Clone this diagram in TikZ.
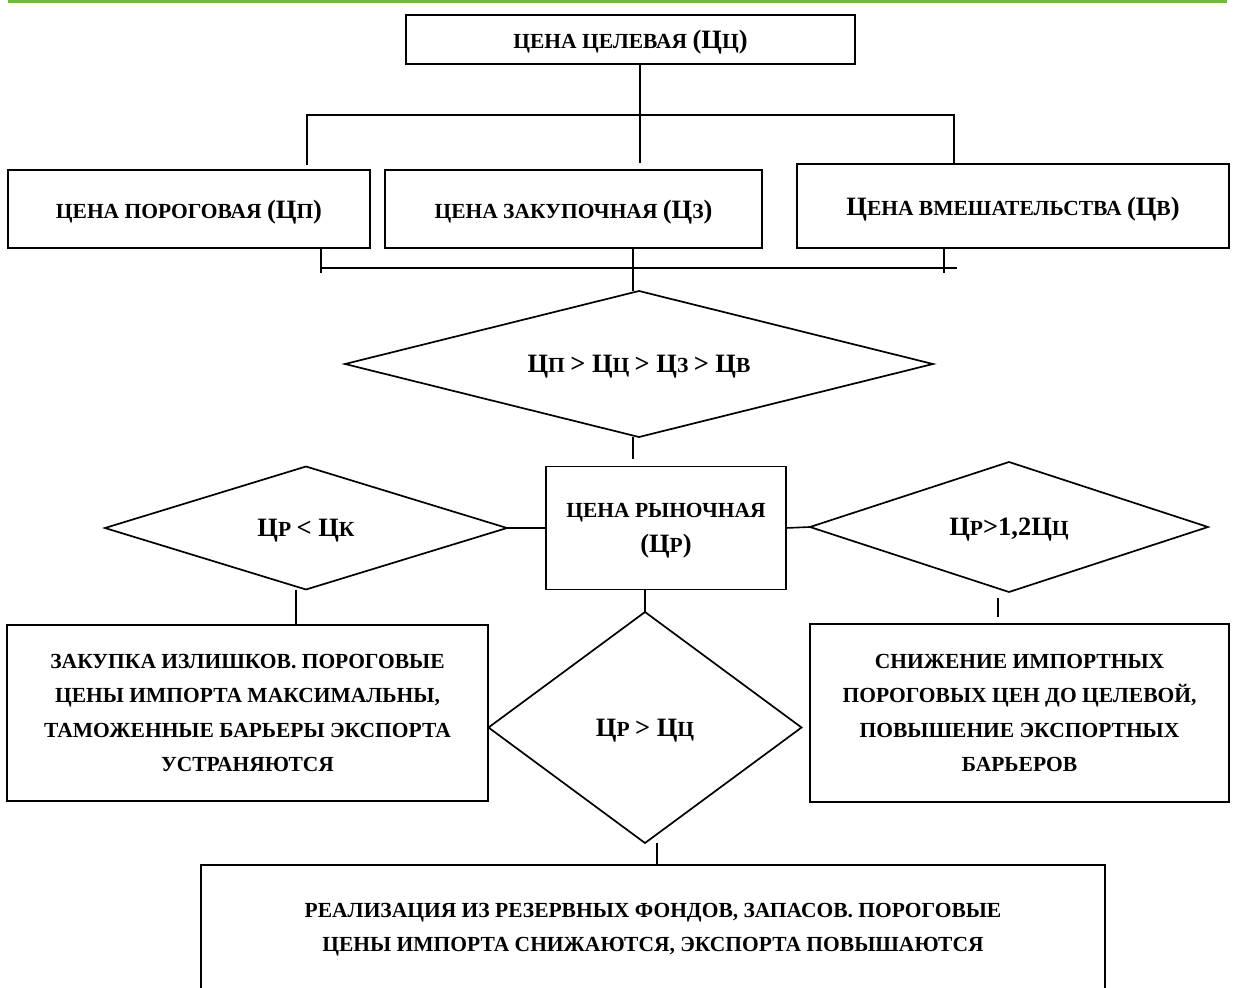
\documentclass[tikz,border=0pt]{standalone}
\usepackage{fontspec}
\setmainfont{Liberation Serif}
\usepackage{tikz}
\usetikzlibrary{shapes.geometric}
\definecolor{topgreen}{RGB}{112,185,60}
\newcommand\bc[1]{{\fontsize{26.5}{30}\selectfont #1}}

\begin{document}
\begin{tikzpicture}[x=1pt, y=-1pt, line width=1.6pt,
    box/.style={draw, line width=1.8pt, inner sep=0pt, outer sep=0pt},
    rhomb/.style={diamond, draw, line width=1.7pt, inner sep=0pt, outer sep=0pt},
    every node/.style={font=\fontsize{21.5}{34.5}\selectfont\bfseries, align=center, text depth=0pt}]
  \useasboundingbox (0,0) rectangle (1233,987);
  \clip (0,0) rectangle (1233,987);
  \draw[topgreen, line width=3pt] (8,2) -- (1227,2);
  % prices
  \node[box, minimum width=449pt, minimum height=49pt] (tzel) at (630.5,39.5) {ЦЕНА ЦЕЛЕВАЯ \bc{(Ц}Ц\bc{)}};
  \node[box, minimum width=362pt, minimum height=78pt] (tpor) at (189,209) {ЦЕНА ПОРОГОВАЯ \bc{(Ц}П\bc{)}};
  \node[box, minimum width=377pt, minimum height=78pt] (tzak) at (573.5,209) {ЦЕНА ЗАКУПОЧНАЯ \bc{(Ц}З\bc{)}};
  \node[box, minimum width=432pt, minimum height=84pt] (tvm) at (1013,206) {\bc{Ц}ЕНА ВМЕШАТЕЛЬСТВА \bc{(Ц}В\bc{)}};
  \node[rhomb, aspect=4, minimum width=588pt, minimum height=146pt] (dcmp) at (639,364) {\bc{Ц}П \bc{> Ц}Ц \bc{> Ц}З \bc{> Ц}В};
  \node[box, minimum width=240pt, minimum height=123pt] (tryn) at (666,528) {ЦЕНА РЫНОЧНАЯ\\\bc{(Ц}Р\bc{)}};
  % conditions
  \node[rhomb, aspect=3.3, minimum width=402pt, minimum height=123pt] (dlow) at (306,528) {\bc{Ц}Р \bc{< Ц}К};
  \node[rhomb, aspect=3, minimum width=398pt, minimum height=130pt] (dhigh) at (1009,527) {\bc{Ц}Р\bc{>1,2Ц}Ц};
  \node[rhomb, aspect=1.35, minimum width=313pt, minimum height=231pt] (dmid) at (645,727.5) {\bc{Ц}Р \bc{> Ц}Ц};
  % measures
  \node[box, minimum width=481pt, minimum height=176pt] (rlow) at (247.5,713) {ЗАКУПКА ИЗЛИШКОВ. ПОРОГОВЫЕ\\ЦЕНЫ ИМПОРТА МАКСИМАЛЬНЫ,\\ТАМОЖЕННЫЕ БАРЬЕРЫ ЭКСПОРТА\\УСТРАНЯЮТСЯ};
  \node[box, minimum width=419pt, minimum height=178pt] (rhigh) at (1019.5,713) {СНИЖЕНИЕ ИМПОРТНЫХ\\ПОРОГОВЫХ ЦЕН ДО ЦЕЛЕВОЙ,\\ПОВЫШЕНИЕ ЭКСПОРТНЫХ\\БАРЬЕРОВ};
  \node[box, minimum width=904pt, minimum height=125pt] (rmid) at (653,927.5) {РЕАЛИЗАЦИЯ ИЗ РЕЗЕРВНЫХ ФОНДОВ, ЗАПАСОВ. ПОРОГОВЫЕ\\ЦЕНЫ ИМПОРТА СНИЖАЮТСЯ, ЭКСПОРТА ПОВЫШАЮТСЯ};
  % upper bus
  \coordinate (bl) at (307,115);
  \coordinate (br) at (954,115);
  \coordinate (bt) at (640,115);
  \draw ([yshift=5pt]tpor.north -| bl) -- (bl) -- (br) -- ([yshift=1pt]tvm.north -| br);
  \draw (tzel.south -| bt) -- ([yshift=7pt]tzak.north -| bt);
  % lower bus
  \coordinate (ul) at (321,268);
  \coordinate (ur) at (957,268);
  \coordinate (um) at (633,268);
  \coordinate (uv) at (944,268);
  \draw (ul) -- (ur);
  \draw (tpor.south -| ul) -- ++(0,25);
  \draw (tvm.south -| uv) -- ++(0,25);
  \draw (tzak.south -| um) -- (dcmp.north -| um);
  \draw (dcmp.south -| um) -- ([yshift=8pt]tryn.north -| um);
  % market price
  \draw (dlow.east) -- (tryn.west);
  \draw (tryn.east) -- (dhigh.west);
  \draw (tryn.south -| dmid.north) -- (dmid.north);
  \draw ([xshift=-10pt]dlow.south) -- ([xshift=-10pt]dlow.south |- rlow.north);
  \draw ([xshift=-11pt,yshift=-6pt]dhigh.south) -- ([xshift=-11pt,yshift=7pt]dhigh.south |- rhigh.north);
  \draw ([xshift=12pt]dmid.south) -- ([xshift=12pt]dmid.south |- rmid.north);
\end{tikzpicture}
\end{document}
